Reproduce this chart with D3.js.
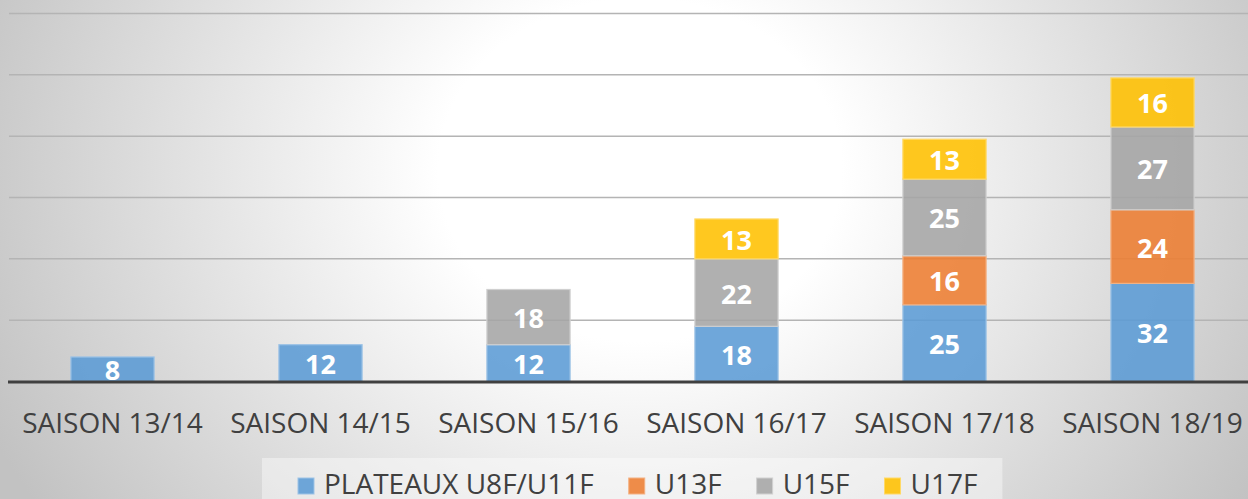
<!DOCTYPE html>
<html><head><meta charset="utf-8">
<script src="https://cdn.jsdelivr.net/npm/d3@7"></script>
<style>html,body{margin:0;padding:0;overflow:hidden;background:#fff}</style>
</head><body>
<svg id="c" width="1248" height="499"></svg>
<script>
const categories = ["SAISON 13/14","SAISON 14/15","SAISON 15/16","SAISON 16/17","SAISON 17/18","SAISON 18/19"];
const seriesNames = ["PLATEAUX U8F/U11F","U13F","U15F","U17F"];
const plateaux = [8,12,12,18,25,32];
const u13f = [0,0,0,0,16,24];
const u15f = [0,0,18,22,25,27];
const u17f = [0,0,0,13,13,16];
const yTicks = [0,20,40,60,80,100,120];
const colors = ["#5b9bd5","#ed7d31","#a5a5a5","#ffc000"];
const strokes = ["#9dc3e6","#f4b183","#d0d0d0","#ffd966"];

const svg = d3.select("#c");
const W = 1248, H = 499;
const defs = svg.append("defs");
const g = defs.append("radialGradient").attr("id","bg").attr("gradientUnits","userSpaceOnUse")
  .attr("cx",640).attr("cy",170).attr("r",720)
  .attr("gradientTransform","translate(640,170) scale(1,0.85) translate(-640,-170)");
g.append("stop").attr("offset","0").attr("stop-color","#ffffff");
g.append("stop").attr("offset","0.28").attr("stop-color","#ffffff");
g.append("stop").attr("offset","1").attr("stop-color","#c2c2c2");
svg.append("rect").attr("width",W).attr("height",H).attr("fill","url(#bg)");

const x = d3.scaleBand().domain(categories).range([8.5,1256.5]).paddingInner(0.6).paddingOuter(0.3);
const y = d3.scaleLinear().domain([0,120]).range([381.5,13.5]);

// gridlines
svg.append("g").selectAll("line").data(yTicks.filter(t=>t>0)).join("line")
  .attr("x1",9).attr("x2",W).attr("y1",d=>y(d)).attr("y2",d=>y(d))
  .attr("stroke","#b4b4b4").attr("stroke-width",1.5);

const rows = categories.map((c,i)=>({cat:c, s0:plateaux[i], s1:u13f[i], s2:u15f[i], s3:u17f[i]}));
const stack = d3.stack().keys(["s0","s1","s2","s3"])(rows);

stack.forEach((layer,k)=>{
  const gg = svg.append("g");
  layer.forEach(d=>{
    const v = d[1]-d[0];
    if(v<=0) return;
    gg.append("rect").attr("x",x(d.data.cat)).attr("width",x.bandwidth())
      .attr("y",y(d[1])).attr("height",y(d[0])-y(d[1]))
      .attr("fill",colors[k]).attr("fill-opacity",0.88)
      .attr("stroke",strokes[k]).attr("stroke-width",1.2);
  });
});
stack.forEach((layer,k)=>{
  layer.forEach(d=>{
    const v = d[1]-d[0];
    if(v<=0) return;
    svg.append("text").attr("x",x(d.data.cat)+x.bandwidth()/2)
      .attr("y",(y(d[0])+y(d[1]))/2+11)
      .attr("text-anchor","middle").attr("fill","#ffffff")
      .attr("font-family","Open Sans").attr("font-weight","bold").attr("font-size",27)
      .text(v);
  });
});

// axis line
svg.append("line").attr("x1",8).attr("x2",W).attr("y1",y(0)+0.5).attr("y2",y(0)+0.5)
  .attr("stroke","#404040").attr("stroke-width",3);

// category labels via axis
const ax = svg.append("g").attr("transform",`translate(0,${y(0)})`)
  .call(d3.axisBottom(x).tickSize(0).tickPadding(0));
ax.select(".domain").remove();
ax.selectAll("text").attr("font-family","Open Sans").attr("font-size",28)
  .attr("fill","#404040").attr("dy",null).attr("y",51);

// legend
const lg = svg.append("g");
const box = lg.append("rect").attr("y",458).attr("height",50)
  .attr("fill","#ffffff").attr("fill-opacity",0.4);
let cx = 298;
seriesNames.forEach((n,i)=>{
  lg.append("rect").attr("x",cx).attr("y",478).attr("width",16).attr("height",16)
    .attr("fill",colors[i]).attr("fill-opacity",0.88).attr("stroke",strokes[i]).attr("stroke-width",1);
  const t = lg.append("text").attr("x",cx+26).attr("y",494)
    .attr("font-family","Open Sans").attr("font-size",28).attr("fill","#404040").text(n);
  const w = t.node().getComputedTextLength();
  cx = cx + 26 + w + 35;
});
box.attr("x",262).attr("width",(cx-35+25)-262);
</script>
</body></html>
